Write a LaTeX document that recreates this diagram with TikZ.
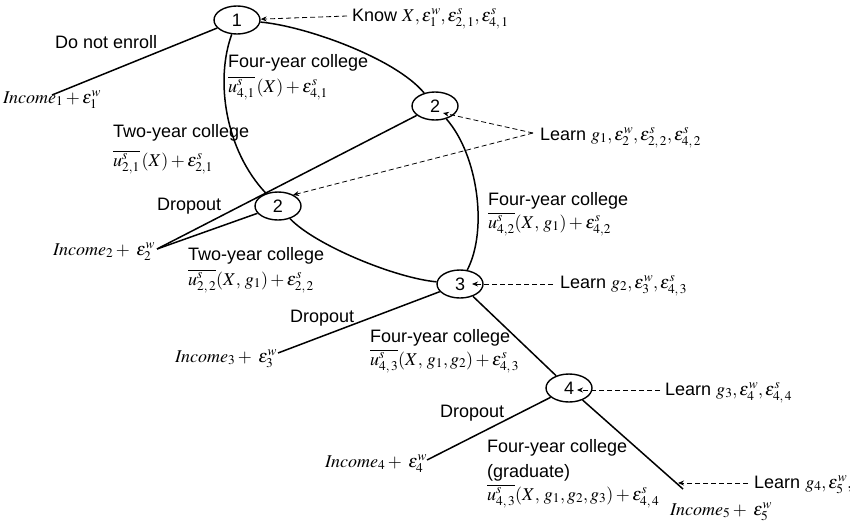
\documentclass[tikz,border=0pt]{standalone}
\usepackage{mathptmx}
\usepackage[no-math]{fontspec}
\setmainfont{Liberation Sans}
\usetikzlibrary{arrows.meta,shapes.geometric}
\tikzset{
  every node/.style={font=\fontsize{18}{22}\selectfont, inner sep=0pt},
  state/.style={draw, ellipse, line width=1.4pt, minimum width=46pt, minimum height=28pt},
  branch/.style={line width=1.5pt},
  info/.style={line width=0.8pt, dash pattern=on 5pt off 3pt, -{Stealth[length=6pt,width=5pt]}},
  lbl/.style={anchor=base west},
}
\begin{document}
\begin{tikzpicture}[x=1pt,y=-1pt]
\useasboundingbox (0,0) rectangle (850,522);
% decision nodes
\node[state] (n1) at (237,20) {1};
\node[state] (n2u) at (435,106) {2};
\node[state] (n2l) at (278,206) {2};
\node[state] (n3) at (460,284) {3};
\node[state] (n4) at (569,388) {4};
% free ends
\coordinate (i1c) at (52,95);
\coordinate (i2c) at (157,249);
\coordinate (i3c) at (278,353);
\coordinate (i4c) at (427,460);
\coordinate (i5c) at (683,489);
% branches
\draw[branch] (n1) -- (i1c);
\draw[branch] (n1) .. controls (305,26) and (395,58) .. (n2u);
\draw[branch] (n1) .. controls (215,80) and (225,150) .. (n2l);
\draw[branch] (n2u) -- (i2c);
\draw[branch] (n2l) -- (i2c);
\draw[branch] (n2u) .. controls (478,155) and (488,230) .. (n3);
\draw[branch] (n2l) .. controls (315,245) and (395,278) .. (n3);
\draw[branch] (n3) -- (i3c);
\draw[branch] (n3) -- (n4);
\draw[branch] (n4) -- (i4c);
\draw[branch] (n4) -- (i5c);
% information arrows
\coordinate (kn) at (347,16);
\coordinate (lg1) at (533,133);
\coordinate (lg1a) at (443,113);
\coordinate (lg1b) at (293,195);
\coordinate (lg2) at (553,284);
\coordinate (lg2t) at (472,284);
\coordinate (lg3) at (660,390);
\coordinate (lg3t) at (577,390);
\coordinate (lg4) at (748,483);
\coordinate (lg4t) at (678,483);
\draw[info] (kn) -- (n1);
\draw[info] (lg1) -- (lg1a);
\draw[info] (lg1) -- (lg1b);
\draw[info] (lg2) -- (lg2t);
\draw[info] (lg3) -- (lg3t);
\draw[info] (lg4) -- (lg4t);
% labels
\node[lbl] (know) at (352,21) {Know $X,\varepsilon^w_1,\varepsilon^s_{2,\,1},\varepsilon^s_{4,\,1}$};
\node[lbl] (dne) at (55,48) {Do not enroll};
\node[lbl] (inc1) at (3,103) {$\mathit{Income}_1+\varepsilon^w_1$};
\node[lbl] (fy1) at (228,67) {Four-year college};
\node[lbl] (fy1m) at (228,92) {$\overline{u^s_{4,1}}\,(X)+\varepsilon^s_{4,1}$};
\node[lbl] (ty1) at (113,137) {Two-year college};
\node[lbl] (ty1m) at (113,166) {$\overline{u^s_{2,1}}\,(X)+\varepsilon^s_{2,1}$};
\node[lbl] (learn1) at (540,140) {Learn $g_1,\varepsilon^w_2,\varepsilon^s_{2,\,2},\varepsilon^s_{4,\,2}$};
\node[lbl] (do2) at (157,210) {Dropout};
\node[lbl] (inc2) at (53,255) {$\mathit{Income}_2+\;\varepsilon^w_2$};
\node[lbl] (ty2) at (188,260) {Two-year college};
\node[lbl] (ty2m) at (188,285) {$\overline{u^s_{2,\,2}}(X,\,g_1)+\varepsilon^s_{2,\,2}$};
\node[lbl] (fy2) at (488,205) {Four-year college};
\node[lbl] (fy2m) at (488,228) {$\overline{u^s_{4,2}}(X,\,g_1)+\varepsilon^s_{4,2}$};
\node[lbl] (learn2) at (560,288) {Learn $g_2,\varepsilon^w_3,\varepsilon^s_{4,\,3}$};
\node[lbl] (do3) at (290,322) {Dropout};
\node[lbl] (fy3) at (370,342) {Four-year college};
\node[lbl] (fy3m) at (370,365) {$\overline{u^s_{4,\,3}}(X,\,g_1,g_2)+\varepsilon^s_{4,\,3}$};
\node[lbl] (inc3) at (175,362) {$\mathit{Income}_3+\;\varepsilon^w_3$};
\node[lbl] (learn3) at (665,395) {Learn $g_3,\varepsilon^w_4,\varepsilon^s_{4,\,4}$};
\node[lbl] (do4) at (440,417) {Dropout};
\node[lbl] (inc4) at (325,467) {$\mathit{Income}_4+\;\varepsilon^w_4$};
\node[lbl] (fy4) at (487,452) {Four-year college};
\node[lbl] (fy4g) at (487,477) {(graduate)};
\node[lbl] (fy4m) at (487,500) {$\overline{u^s_{4,\,3}}(X,\,g_1,g_2,g_3)+\varepsilon^s_{4,\,4}$};
\node[lbl] (learn4) at (754,488) {Learn $g_4,\varepsilon^w_5,$};
\node[lbl] (inc5) at (670,515) {$\mathit{Income}_5+\;\varepsilon^w_5$};
\end{tikzpicture}
\end{document}
